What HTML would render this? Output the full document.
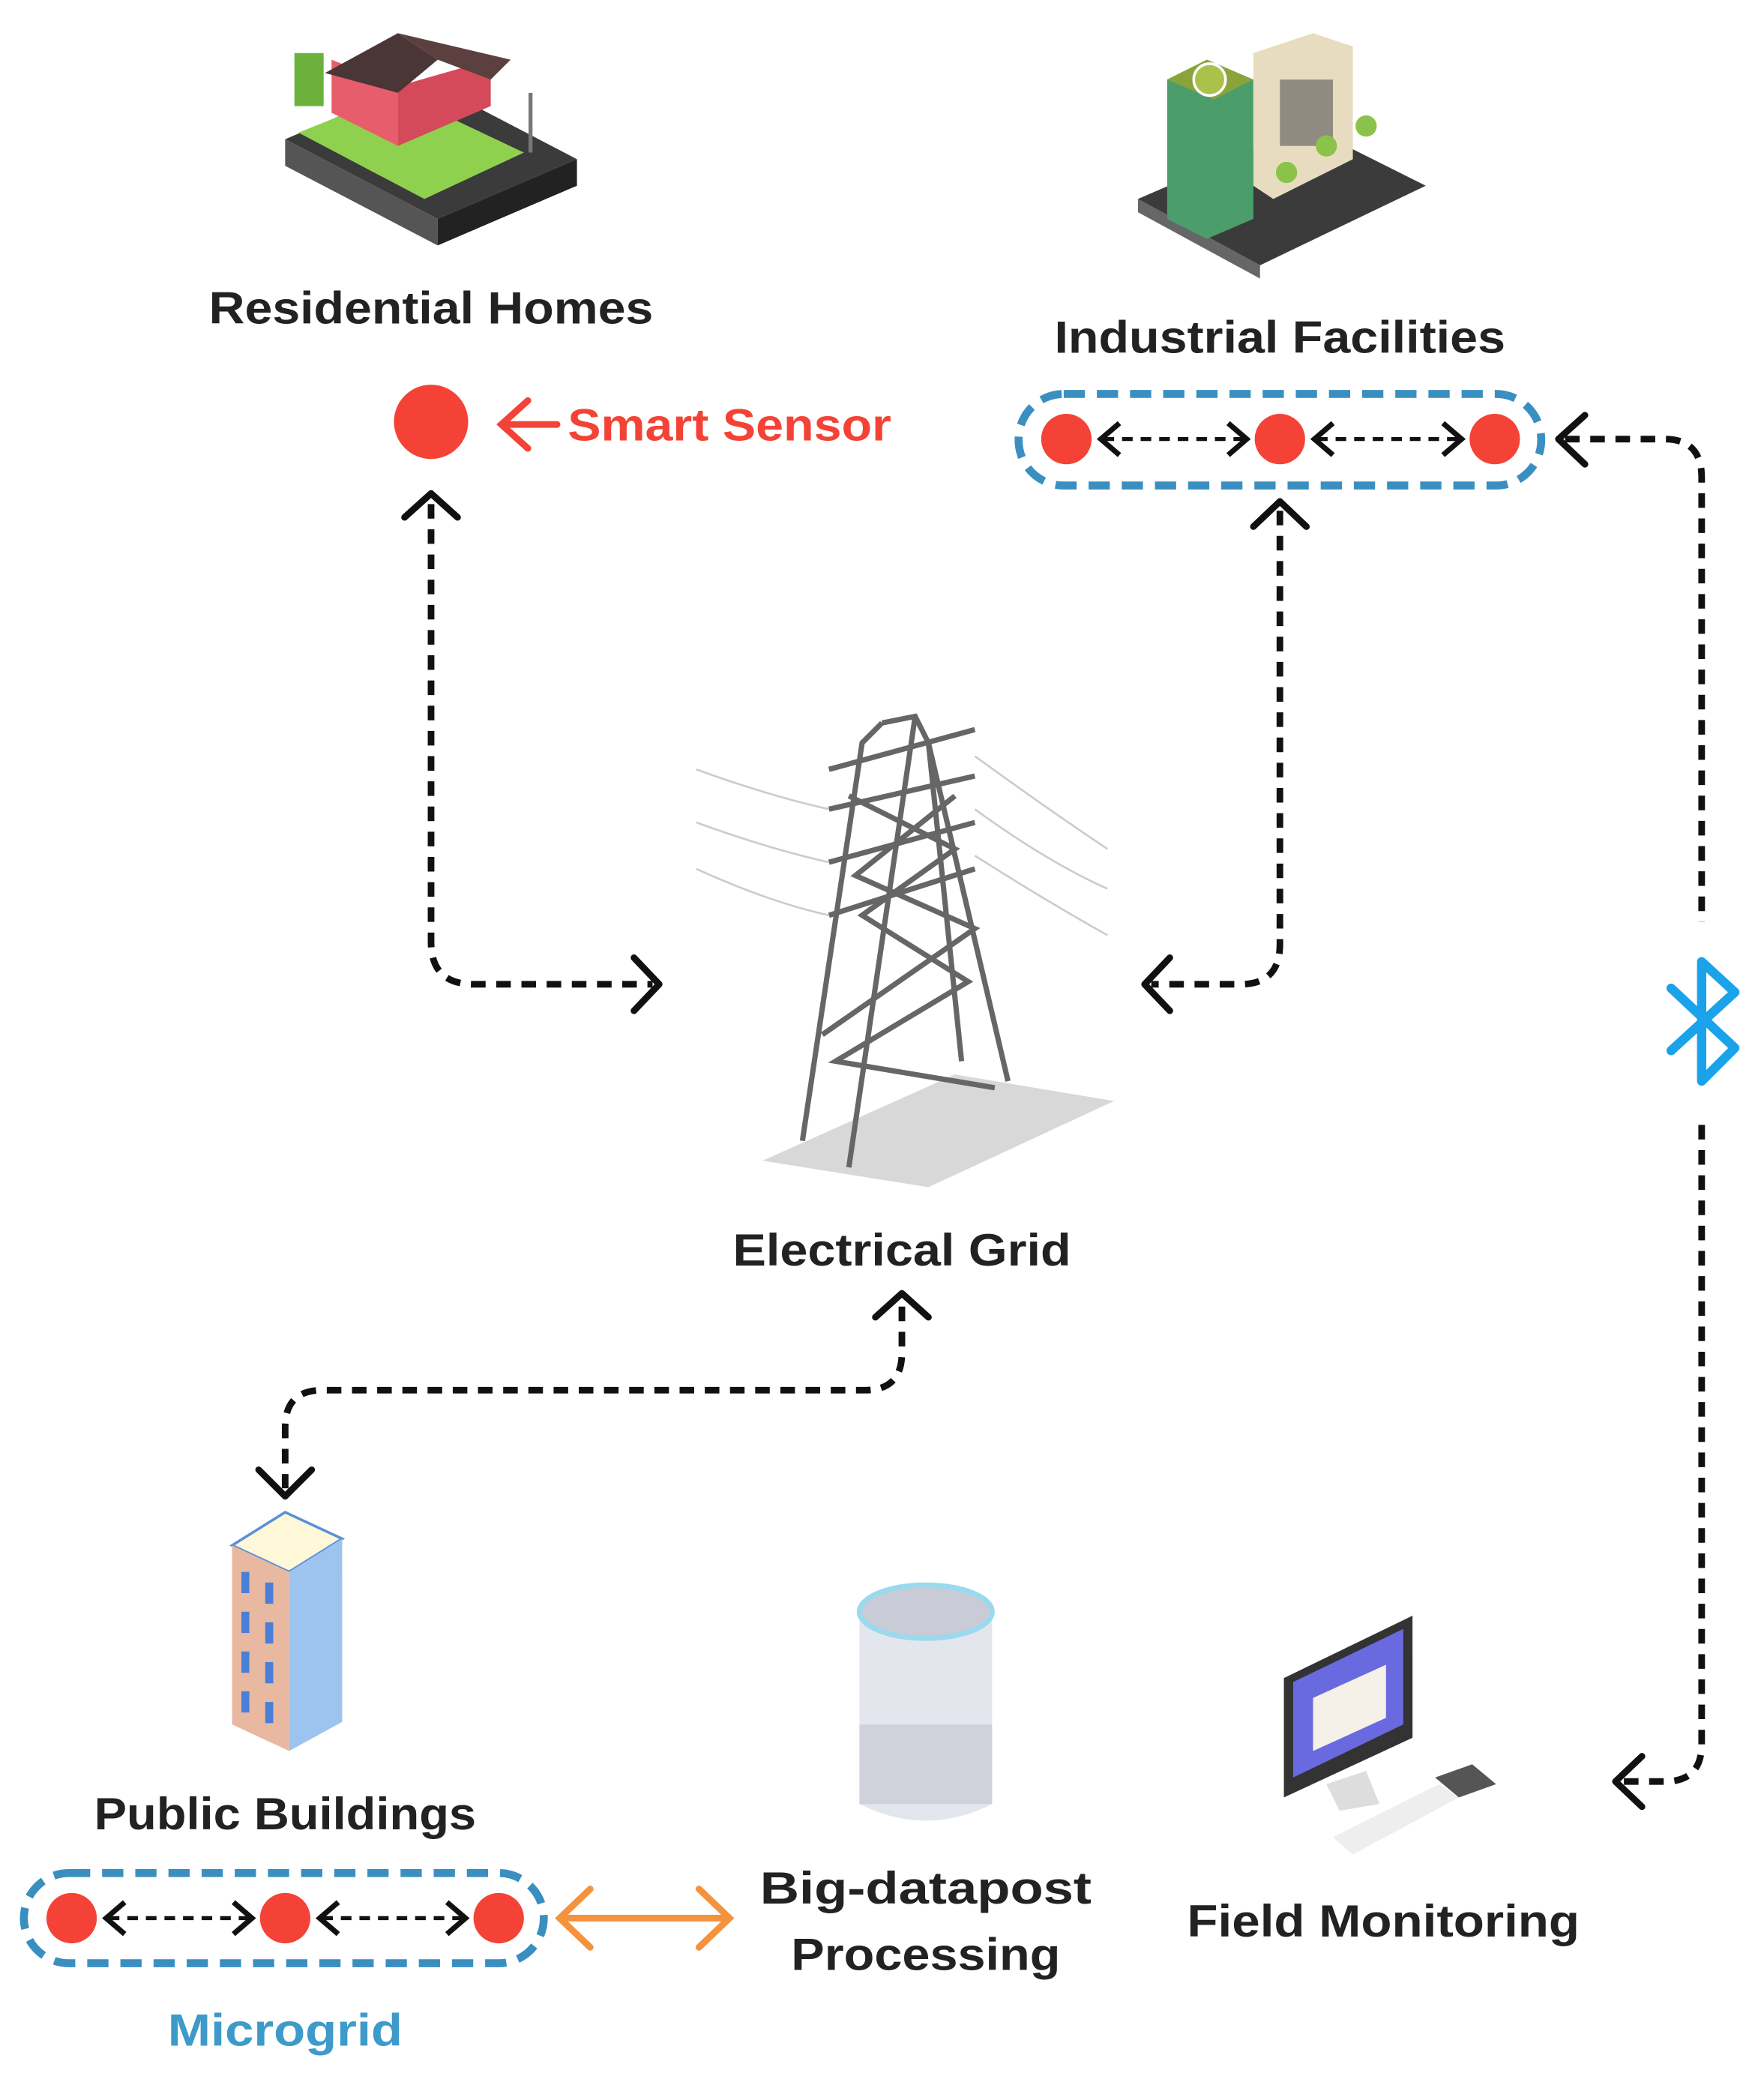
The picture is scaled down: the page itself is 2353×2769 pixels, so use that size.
<!DOCTYPE html>
<html><head><meta charset="utf-8"><style>
html,body{margin:0;padding:0;background:#fff;}
svg{display:block}
text{font-family:"Liberation Sans",sans-serif;font-weight:bold;}
</style></head><body>
<svg width="2353" height="2769" viewBox="0 0 1330 1565" preserveAspectRatio="none" xmlns="http://www.w3.org/2000/svg">
<rect width="1330" height="1565" fill="#fff"/>

<!-- House illustration -->
<g>
<polygon points="215,105 330,165 435,120 320,60" fill="#3b3b3b"/>
<polygon points="215,105 330,165 330,185 215,125" fill="#555"/>
<polygon points="330,165 435,120 435,140 330,185" fill="#222"/>
<polygon points="225,100 320,150 395,115 300,70" fill="#8fd14f"/>
<polygon points="250,85 300,110 300,65 250,45" fill="#e85d6b"/>
<polygon points="300,110 370,80 370,45 300,65" fill="#d44a5a"/>
<polygon points="245,55 300,25 330,45 300,70" fill="#4a3636"/>
<polygon points="300,25 385,45 370,60 330,45" fill="#5c4040"/>
<rect x="222" y="40" width="22" height="40" fill="#6bb13c"/>
<line x1="400" y1="70" x2="400" y2="115" stroke="#777" stroke-width="3"/>
</g>

<!-- Industrial illustration -->
<g>
<polygon points="858,150 950,200 1075,140 985,95" fill="#3b3b3b"/>
<polygon points="858,150 950,200 950,210 858,160" fill="#666"/>
<polygon points="880,60 910,45 945,60 945,165 910,180 880,165" fill="#4b9e6b"/>
<polygon points="880,60 910,45 945,60 915,75" fill="#8aa33a"/>
<circle cx="912" cy="60" r="12" fill="#aac24a" stroke="#fff" stroke-width="2"/>
<polygon points="945,40 990,25 1020,35 1020,120 960,150 945,140" fill="#e8dcc0"/>
<rect x="965" y="60" width="40" height="50" fill="#555" opacity="0.6"/>
<circle cx="1000" cy="110" r="8" fill="#8bc34a"/>
<circle cx="1030" cy="95" r="8" fill="#8bc34a"/>
<circle cx="970" cy="130" r="8" fill="#8bc34a"/>
</g>

<!-- Tower -->
<g stroke="#666" stroke-width="4" fill="none">
<polygon points="575,875 700,895 840,830 720,810" fill="#d8d8d8" stroke="none"/>
<path d="M665,545 L690,540 L700,560 L725,800 M665,545 L650,560 L605,860 M690,540 L640,880 M700,560 L760,815"/>
<path d="M625,580 L735,550 M625,610 L735,585 M625,650 L735,620 M625,690 L735,655"/>
<path d="M640,600 L720,640 L650,690 L730,740 L630,800 L750,820 M720,600 L645,660 L735,700 L620,780"/>
</g>
<g stroke="#ccc" stroke-width="1.5" fill="none">
<path d="M525,580 Q580,600 625,610 M525,620 Q580,640 625,650 M525,655 Q580,680 625,690 M735,570 Q790,610 835,640 M735,610 Q790,650 835,670 M735,645 Q790,680 835,705"/>
</g>

<!-- Public building -->
<g>
<polygon points="175,1165 215,1140 258,1160 218,1185" fill="#fff8d8" stroke="#5b8fd8" stroke-width="2"/>
<polygon points="175,1165 218,1185 218,1320 175,1300" fill="#e8b8a0"/>
<polygon points="218,1185 258,1160 258,1298 218,1320" fill="#9cc4ef"/>
<g fill="#4a7fd8">
<rect x="182" y="1185" width="6" height="16"/><rect x="200" y="1193" width="6" height="16"/>
<rect x="182" y="1215" width="6" height="16"/><rect x="200" y="1223" width="6" height="16"/>
<rect x="182" y="1245" width="6" height="16"/><rect x="200" y="1253" width="6" height="16"/>
<rect x="182" y="1275" width="6" height="16"/><rect x="200" y="1283" width="6" height="16"/>
</g>
</g>

<!-- Server -->
<g>
<path d="M648,1215 L648,1360 Q698,1385 748,1360 L748,1215 Z" fill="#e4e6ee"/>
<ellipse cx="698" cy="1215" rx="50" ry="20" fill="#c9ccd6" stroke="#9ad9ee" stroke-width="4"/>
<rect x="648" y="1300" width="100" height="60" fill="#cfd2da"/>
</g>

<!-- Computer -->
<g>
<polygon points="968,1265 1065,1218 1065,1310 968,1355" fill="#333"/>
<polygon points="975,1268 1058,1228 1058,1300 975,1340" fill="#6a6ae0"/>
<polygon points="990,1280 1045,1255 1045,1295 990,1320" fill="#f5f0e8"/>
<polygon points="1000,1345 1030,1335 1040,1360 1010,1365" fill="#ddd"/>
<polygon points="1005,1385 1085,1345 1100,1355 1020,1398" fill="#eee"/>
<polygon points="1082,1340 1110,1330 1128,1345 1100,1355" fill="#555"/>
</g>

<!-- Texts -->
<g font-size="34" fill="#222" text-anchor="middle">
<text x="325" y="244" textLength="335" lengthAdjust="spacingAndGlyphs">Residential Homes</text>
<text x="965" y="266" textLength="340" lengthAdjust="spacingAndGlyphs">Industrial Facilities</text>
<text x="680" y="954" textLength="255" lengthAdjust="spacingAndGlyphs">Electrical Grid</text>
<text x="215" y="1379" textLength="288" lengthAdjust="spacingAndGlyphs">Public Buildings</text>
<text x="698" y="1435" textLength="250" lengthAdjust="spacingAndGlyphs">Big-datapost</text>
<text x="698" y="1485" textLength="203" lengthAdjust="spacingAndGlyphs">Processing</text>
<text x="1043" y="1460" textLength="296" lengthAdjust="spacingAndGlyphs">Field Monitoring</text>
<text x="215" y="1542" fill="#3d9ac9" textLength="177" lengthAdjust="spacingAndGlyphs">Microgrid</text>
</g>
<text x="428" y="332" font-size="34" fill="#f44336" textLength="244" lengthAdjust="spacingAndGlyphs">Smart Sensor</text>

<!-- Smart sensor -->
<circle cx="325" cy="318" r="28" fill="#f44336"/>
<g stroke="#f44336" stroke-width="5" fill="none" stroke-linecap="round">
<line x1="420" y1="320" x2="378" y2="320"/><polyline points="398,302 378,320 398,338"/>
</g>

<!-- Capsules -->
<g stroke="#3a8fc0" stroke-width="6" fill="none" stroke-dasharray="16,9">
<rect x="768" y="297" width="394" height="69" rx="34"/>
<rect x="18" y="1412" width="392" height="68" rx="34"/>
</g>
<g fill="#f44336">
<circle cx="804" cy="331" r="19"/><circle cx="965" cy="331" r="19"/><circle cx="1127" cy="331" r="19"/>
<circle cx="54" cy="1446" r="19"/><circle cx="215" cy="1446" r="19"/><circle cx="376" cy="1446" r="19"/>
</g>
<g stroke="#111" stroke-width="3" fill="none">
<g stroke-dasharray="8,6">
<line x1="832" y1="331" x2="937" y2="331"/><line x1="993" y1="331" x2="1099" y2="331"/>
<line x1="82" y1="1446" x2="187" y2="1446"/><line x1="243" y1="1446" x2="348" y2="1446"/>
</g>
<g stroke-width="4">
<polyline points="844,319 830,331 844,343"/><polyline points="926,319 940,331 926,343"/>
<polyline points="1005,319 991,331 1005,343"/><polyline points="1088,319 1102,331 1088,343"/>
<polyline points="94,1434 80,1446 94,1458"/><polyline points="176,1434 190,1446 176,1458"/>
<polyline points="255,1434 241,1446 255,1458"/><polyline points="337,1434 351,1446 337,1458"/>
</g>
</g>

<!-- Main dashed connectors -->
<g stroke="#111" stroke-width="5" fill="none" stroke-dasharray="11,8">
<path d="M325,380 L325,710 Q325,742 357,742 L492,742"/>
<path d="M965,385 L965,712 Q965,742 935,742 L868,742"/>
<path d="M1180,331 L1255,331 Q1283,331 1283,360 L1283,695"/>
<path d="M1283,848 L1283,1315 Q1283,1343 1255,1343 L1222,1343"/>
<path d="M680,985 L680,1020 Q680,1048 652,1048 L243,1048 Q215,1048 215,1076 L215,1122"/>
</g>
<g stroke="#111" stroke-width="5" fill="none" stroke-linecap="round" stroke-linejoin="round">
<polyline points="305,390 325,372 345,390"/>
<polyline points="478,722 497,742 478,762"/>
<polyline points="945,397 965,378 985,397"/>
<polyline points="882,722 863,742 882,762"/>
<polyline points="1195,313 1175,331 1195,350"/>
<polyline points="1238,1324 1218,1343 1238,1362"/>
<polyline points="660,993 680,975 700,993"/>
<polyline points="195,1108 215,1128 235,1108"/>
</g>

<!-- Bluetooth -->
<g stroke="#1aa3ea" stroke-width="7" fill="none" stroke-linecap="round" stroke-linejoin="round">
<polyline points="1260,745 1308,790 1283,815 1283,725 1308,748 1260,792"/>
</g>

<!-- Orange double arrow -->
<g stroke="#f5923e" stroke-width="5" fill="none" stroke-linecap="round">
<line x1="422" y1="1446" x2="550" y2="1446"/>
<polyline points="445,1424 422,1446 445,1468"/>
<polyline points="527,1424 550,1446 527,1468"/>
</g>
</svg>
</body></html>
